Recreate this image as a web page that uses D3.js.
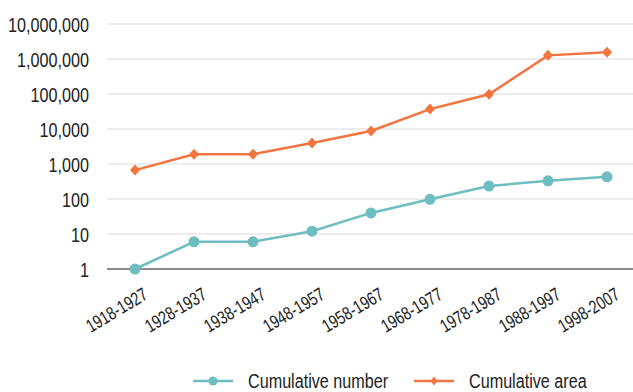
<!DOCTYPE html>
<html><head><meta charset="utf-8">
<script src="https://cdn.jsdelivr.net/npm/d3@7"></script>
<style>
body{margin:0;background:#fff;}
text{font-family:"Liberation Sans","Arimo","DejaVu Sans",sans-serif;fill:#222;}
</style></head>
<body><svg id="c" width="633" height="392"></svg>
<script>
const categories = ["1918-1927","1928-1937","1938-1947","1948-1957","1958-1967","1968-1977","1978-1987","1988-1997","1998-2007"];
const cumulativeNumber = [1, 6, 6, 12, 40, 98, 235, 330, 430];
const cumulativeArea = [670, 1900, 1900, 4000, 8800, 37000, 98000, 1270000, 1550000];
const yTicks = [1, 10, 100, 1000, 10000, 100000, 1000000, 10000000];
const seriesNames = ["Cumulative number", "Cumulative area"];
const colors = ["#6dbdc1", "#f2743f"];

const SX = 0.77; // condensed look
const svg = d3.select("#c");
const x = d3.scalePoint().domain(categories).range([105.5, 636.5]).padding(0.5);
const y = d3.scaleLog().domain([1, 10000000]).range([269, 24]);
const fmt = d3.format(",");

const diamondType = (hw, hh) => ({draw(ctx) { ctx.moveTo(0, -hh); ctx.lineTo(hw, 0); ctx.lineTo(0, hh); ctx.lineTo(-hw, 0); ctx.closePath(); }});

// gridlines
svg.append("g").selectAll("line").data(yTicks.slice(1)).join("line")
  .attr("x1", 107).attr("x2", 633)
  .attr("y1", d => y(d)).attr("y2", d => y(d))
  .attr("stroke", "#e6e6e6").attr("stroke-width", 1.5);
// baseline
svg.append("line").attr("x1", 107).attr("x2", 633).attr("y1", y(1)).attr("y2", y(1))
  .attr("stroke", "#8a8a8a").attr("stroke-width", 2);

// y labels
svg.append("g").selectAll("text").data(yTicks).join("text")
  .attr("transform", d => `translate(89,${y(d)}) scale(${SX},1)`)
  .attr("dy", "0.36em")
  .attr("text-anchor", "end").attr("font-size", 21).text(d => fmt(d));

// x labels
svg.append("g").selectAll("text").data(categories).join("text")
  .attr("transform", d => `translate(${x(d) + 14},${y(1) + 29}) rotate(-31) scale(${SX},1)`)
  .attr("text-anchor", "end").attr("font-size", 18.5).text(d => d);

const line = d3.line().x((d, i) => x(categories[i])).y(d => y(d));

// number series
svg.append("path").datum(cumulativeNumber).attr("d", line)
  .attr("fill", "none").attr("stroke", colors[0]).attr("stroke-width", 2.5);
svg.append("g").selectAll("circle").data(cumulativeNumber).join("circle")
  .attr("cx", (d, i) => x(categories[i])).attr("cy", d => y(d)).attr("r", 5.5)
  .attr("fill", colors[0]);

// area series
svg.append("path").datum(cumulativeArea).attr("d", line)
  .attr("fill", "none").attr("stroke", colors[1]).attr("stroke-width", 2.5);
const diamond = d3.symbol().type(diamondType(5, 5.5));
svg.append("g").selectAll("path").data(cumulativeArea).join("path")
  .attr("transform", (d, i) => `translate(${x(categories[i])},${y(d)})`)
  .attr("d", diamond).attr("fill", colors[1]);

// legend
const leg = [{x: 193, tx: 248, name: seriesNames[0], c: colors[0], sym: "circle"},
             {x: 414, tx: 469, name: seriesNames[1], c: colors[1], sym: "diamond"}];
const lg = svg.append("g");
leg.forEach(l => {
  lg.append("line").attr("x1", l.x).attr("x2", l.x + 40).attr("y1", 381).attr("y2", 381)
    .attr("stroke", l.c).attr("stroke-width", 2.5);
  if (l.sym === "circle") {
    lg.append("circle").attr("cx", l.x + 20).attr("cy", 381).attr("r", 4.5).attr("fill", l.c);
  } else {
    lg.append("path").attr("transform", `translate(${l.x + 20},381)`)
      .attr("d", d3.symbol().type(diamondType(3.5, 4.5))).attr("fill", l.c);
  }
  lg.append("text").attr("transform", `translate(${l.tx},388) scale(${SX},1)`)
    .attr("font-size", 21).text(l.name);
});
</script></body></html>
